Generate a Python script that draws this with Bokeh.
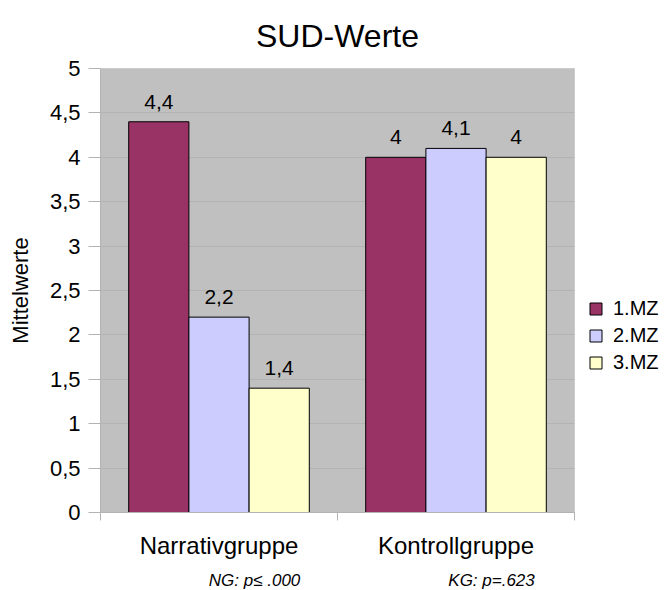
from bokeh.plotting import figure
from bokeh.models import (FixedTicker, LinearAxis, Range1d, Legend, LegendItem, ColumnDataSource)
from bokeh.transform import dodge
from bokeh.core.properties import value
from bokeh.embed import file_html
from bokeh.resources import INLINE

groups = ["Narrativgruppe", "Kontrollgruppe"]
series = ["1.MZ", "2.MZ", "3.MZ"]
mz1 = [4.4, 4.0]
mz2 = [2.2, 4.1]
mz3 = [1.4, 4.0]
notes = ["NG: p\u2264 .000", "KG: p=.623"]
y_ticks = [0, 0.5, 1, 1.5, 2, 2.5, 3, 3.5, 4, 4.5, 5]
y_tick_labels = ["0", "0,5", "1", "1,5", "2", "2,5", "3", "3,5", "4", "4,5", "5"]
colors = ["#993366", "#CCCCFF", "#FFFFCC"]

FONT = "Liberation Sans"
BAR_W = 0.254
NOTE_SHIFT = 0.15


def fmt(v):
    return ("%g" % v).replace(".", ",")


n = len(groups)
centers = [i + 0.5 for i in range(n)]
edges = list(range(n + 1))
src = ColumnDataSource(dict(
    gx=centers,
    mz1=mz1, mz2=mz2, mz3=mz3,
    l1=[fmt(v) for v in mz1],
    l2=[fmt(v) for v in mz2],
    l3=[fmt(v) for v in mz3],
))

p = figure(x_range=Range1d(0, n), y_range=Range1d(0, 5),
           width=664, height=590, frame_width=474, frame_height=444,
           min_border_left=100, min_border_top=68, min_border_right=90, min_border_bottom=10,
           output_backend="svg", toolbar_location=None, x_axis_location=None)

p.background_fill_color = "#C0C0C0"
p.border_fill_color = "white"
p.outline_line_color = "#cccccc"
p.xgrid.grid_line_color = None
p.ygrid.grid_line_color = "#b3b3b3"
p.ygrid.ticker = FixedTicker(ticks=y_ticks)

p.title.text = "SUD-Werte"
p.title.text_font = FONT
p.title.text_font_size = "32px"
p.title.text_font_style = "normal"
p.title.align = "center"
p.title.text_color = "black"
p.title.standoff = 29

# y axis
ya = p.yaxis[0]
ya.ticker = FixedTicker(ticks=y_ticks)
ya.major_label_overrides = {t: l for t, l in zip(y_ticks, y_tick_labels)}
ya.major_label_text_font = FONT
ya.major_label_text_font_size = "22px"
ya.major_label_text_color = "black"
ya.major_tick_out = 12
ya.major_tick_in = 0
ya.minor_tick_line_color = None
ya.major_tick_line_color = "#b3b3b3"
ya.axis_line_color = "#b3b3b3"
ya.major_label_standoff = 8
ya.axis_label = "Mittelwerte"
ya.axis_label_text_font = FONT
ya.axis_label_text_font_size = "22px"
ya.axis_label_text_font_style = "normal"
ya.axis_label_text_color = "black"
ya.axis_label_standoff = 14

# bars
renderers = []
for i, (col, lab) in enumerate(zip(["mz1", "mz2", "mz3"], ["l1", "l2", "l3"])):
    off = (i - 1) * BAR_W
    r = p.vbar(x=dodge("gx", off), top=col, width=BAR_W, bottom=0,
               source=src, fill_color=colors[i], line_color="black", line_width=1)
    renderers.append(r)
    p.text(x=dodge("gx", off), y=col, text=lab, source=src,
           text_align="center", text_baseline="alphabetic", y_offset=-20,
           text_font=value(FONT), text_font_size="21px", text_color="black")

# x axis: category labels with edge ticks
cat_axis = LinearAxis(ticker=FixedTicker(ticks=centers, minor_ticks=edges),
                      major_label_overrides={t: g for t, g in zip(centers, groups)},
                      major_tick_line_color=None, major_tick_out=0, major_tick_in=0,
                      minor_tick_out=8, minor_tick_in=0, minor_tick_line_color="#b3b3b3",
                      axis_line_color="#b3b3b3",
                      major_label_text_font=FONT, major_label_text_font_size="24px",
                      major_label_text_color="black", major_label_standoff=11)
p.add_layout(cat_axis, "below")

note_ticks = [c + NOTE_SHIFT for c in centers]
note_axis = LinearAxis(ticker=FixedTicker(ticks=note_ticks),
                       major_label_overrides={t: s for t, s in zip(note_ticks, notes)},
                       major_tick_line_color=None, minor_tick_line_color=None,
                       major_tick_out=0, major_tick_in=0,
                       axis_line_color=None, major_label_text_font=FONT,
                       major_label_text_font_size="17px", major_label_text_font_style="italic",
                       major_label_text_color="black", major_label_standoff=9)
p.add_layout(note_axis, "below")

legend = Legend(items=[LegendItem(label=s, renderers=[r]) for s, r in zip(series, renderers)],
                location=(14, 138), glyph_width=15, glyph_height=15, label_standoff=10,
                label_text_font=FONT, label_text_font_size="20px", label_text_color="black",
                spacing=4, padding=0, margin=0, border_line_color=None,
                background_fill_alpha=0)
p.add_layout(legend, "right")

open("out.html", "w").write(file_html(p, INLINE))
